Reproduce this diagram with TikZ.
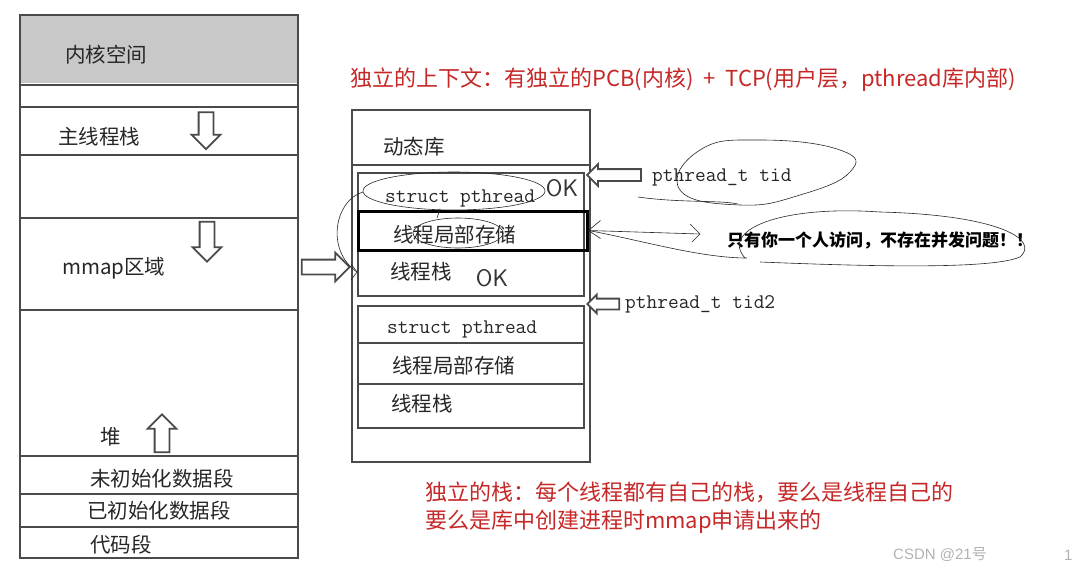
\documentclass[tikz,border=0pt]{standalone}
\usepackage{fontspec}
\setmainfont{Liberation Sans}
\newfontfamily\cjk{Noto Sans CJK SC}
\usetikzlibrary{arrows.meta,positioning,shapes.arrows}
\definecolor{memgray}{HTML}{C8C8C8}
\definecolor{notered}{HTML}{C62828}
\definecolor{penline}{HTML}{4A4A4A}
\tikzset{
  frame/.style={draw=penline, line width=1.4pt},
  seg/.style={font=\cjk\fontsize{20.5}{22}\selectfont, inner sep=0pt, anchor=west, text=black!85},
  mono/.style={font=\ttfamily\fontsize{20.8}{22}\selectfont, inner sep=0pt, anchor=west, text=black!85},
  note/.style={font=\cjk\fontsize{22}{24}\selectfont, inner sep=0pt, anchor=west, text=notered},
  blockarrow/.style={single arrow, draw=penline, fill=white, line width=1.8pt, inner sep=6.5pt, single arrow head extend=7pt},
  hand/.style={draw=black!85, line width=0.6pt},
  ok/.style={font=\sffamily\fontsize{24}{24}\selectfont, inner sep=0pt, text=black!80}
}
\begin{document}
\begin{tikzpicture}[x=1pt, y=-1pt]
  \useasboundingbox (0,0) rectangle (1081,573);

  % process address space
  \fill[memgray] (20,15) rectangle (298,83);
  \draw[frame] (20,15) rectangle (298,558);
  \foreach \y in {85,107,155,218,310,456,494,527}
    \draw[frame] (20,\y) -- (298,\y);
  \node[seg] (kernel) at (65,55) {内核空间};
  \node[seg] (mainstk) at (58,137) {主线程栈};
  \node[seg] (mmap) at (62,268) {mmap区域};
  \node[seg] (heap) at (100,437) {堆};
  \node[seg] (bss) at (90,479) {未初始化数据段};
  \node[seg] (data) at (87,511) {已初始化数据段};
  \node[seg] (text) at (90,545) {代码段};

  \node[blockarrow, minimum height=37pt, shape border rotate=270] (down1) at (206,127) {};
  \node[blockarrow, minimum height=40pt, shape border rotate=270] (down2) at (207,238) {};
  \node[blockarrow, minimum height=38pt, shape border rotate=90] (up1) at (162,437) {};
  \node[blockarrow, minimum height=48pt] (toLib) at (322,267) {};

  % shared library area
  \draw[frame] (352,110) rectangle (590,462);
  \draw[frame] (352,165) -- (590,165);
  \node[seg] (libname) at (383,147) {动态库};

  \draw[frame] (358,173) rectangle (584,296);
  \node[mono] (tcb1) at (385,198) {struct pthread};
  \node[draw=black, line width=3pt, minimum width=229pt, minimum height=39pt, inner sep=0pt] (tls1) at (472.5,230.5) {};
  \node[seg] (tlstext1) at (393,235) {线程局部存储};
  \node[seg] (stk1) at (390,272) {线程栈};

  \draw[frame] (358,306) rectangle (584,428);
  \draw[frame] (358,343) -- (584,343);
  \draw[frame] (358,384) -- (584,384);
  \node[mono] (tcb2) at (387,329) {struct pthread};
  \node[seg] (tlstext2) at (392,366) {线程局部存储};
  \node[seg] (stk2) at (391,404) {线程栈};

  \node[blockarrow, minimum height=54pt, inner sep=5pt, single arrow head extend=5pt, shape border rotate=180] (ptr1) at (617,175) {};
  \node[blockarrow, minimum height=32pt, inner sep=4.5pt, single arrow head extend=4pt, shape border rotate=180] (ptr2) at (606,304) {};
  \node[mono] (tid1) at (652,177) {pthread\_t tid};
  \node[mono] (tid2) at (625,304) {pthread\_t tid2};

  % notes
  \node[note] (ctxnote) at (350,80) {独立的上下文：有独立的PCB(内核) \ +\ \ TCP(用户层，pthread库内部)};
  \node[note] (stknote1) at (425,492) {独立的栈：每个线程都有自己的栈，要么是线程自己的};
  \node[note] (stknote2) at (425,522) {要么是库中创建进程时mmap申请出来的};
  \node[inner sep=0pt, anchor=west, font=\cjk\bfseries\fontsize{17}{18}\selectfont] (solo) at (727,240) {只有你一个人访问，不存在并发问题！！};
  \node[inner sep=0pt, anchor=west, font=\fontsize{15}{16}\selectfont, text=black!30] (mark) at (893,555) {CSDN @21\cjk 号};
  \node[inner sep=0pt, anchor=west, font=\fontsize{15}{16}\selectfont, text=black!30] (pageno) at (1064,555) {1};

  % hand-drawn marks
  \draw[hand] (454,191) ellipse [x radius=91, y radius=19];
  \node[ok] (ok1) at (562,188) {OK};
  \node[ok] (ok2) at (492,278) {OK};
  \draw[hand] (458,233) ellipse [x radius=45, y radius=15];
  \draw[hand] (437,218) -- (440,209);
  \coordinate (loopEnd) at (357,272);
  \draw[hand] (363,192) .. controls (335,200) and (325,250) .. (loopEnd);
  \draw[hand] (loopEnd) ++(-6,-8) -- (loopEnd) -- ++(-6,8);
  \draw[hand] plot[smooth cycle, tension=0.8] coordinates {(680,190) (700,150) (760,140) (840,150) (850,172) (800,195) (740,205)};
  \draw[hand] (638,197) .. controls (680,203) and (720,200) .. (738,204);
  \coordinate (tlsTip) at (700,234);
  \draw[hand] (tls1.east) -- (tlsTip);
  \draw[hand] (tls1.east) ++(12,-10) -- (tls1.east) -- ++(12,8);
  \draw[hand] (tlsTip) ++(-10,-10) -- (tlsTip) -- ++(-8,8);
  \draw[hand] (tls1.east) .. controls (640,240) and (700,258) .. (747,258);
  \draw[hand] (745,258) .. controls (720,230) and (780,205) .. (880,212) .. controls (1000,215) and (1040,240) .. (1020,257) .. controls (990,270) and (860,266) .. (760,262);
\end{tikzpicture}
\end{document}
